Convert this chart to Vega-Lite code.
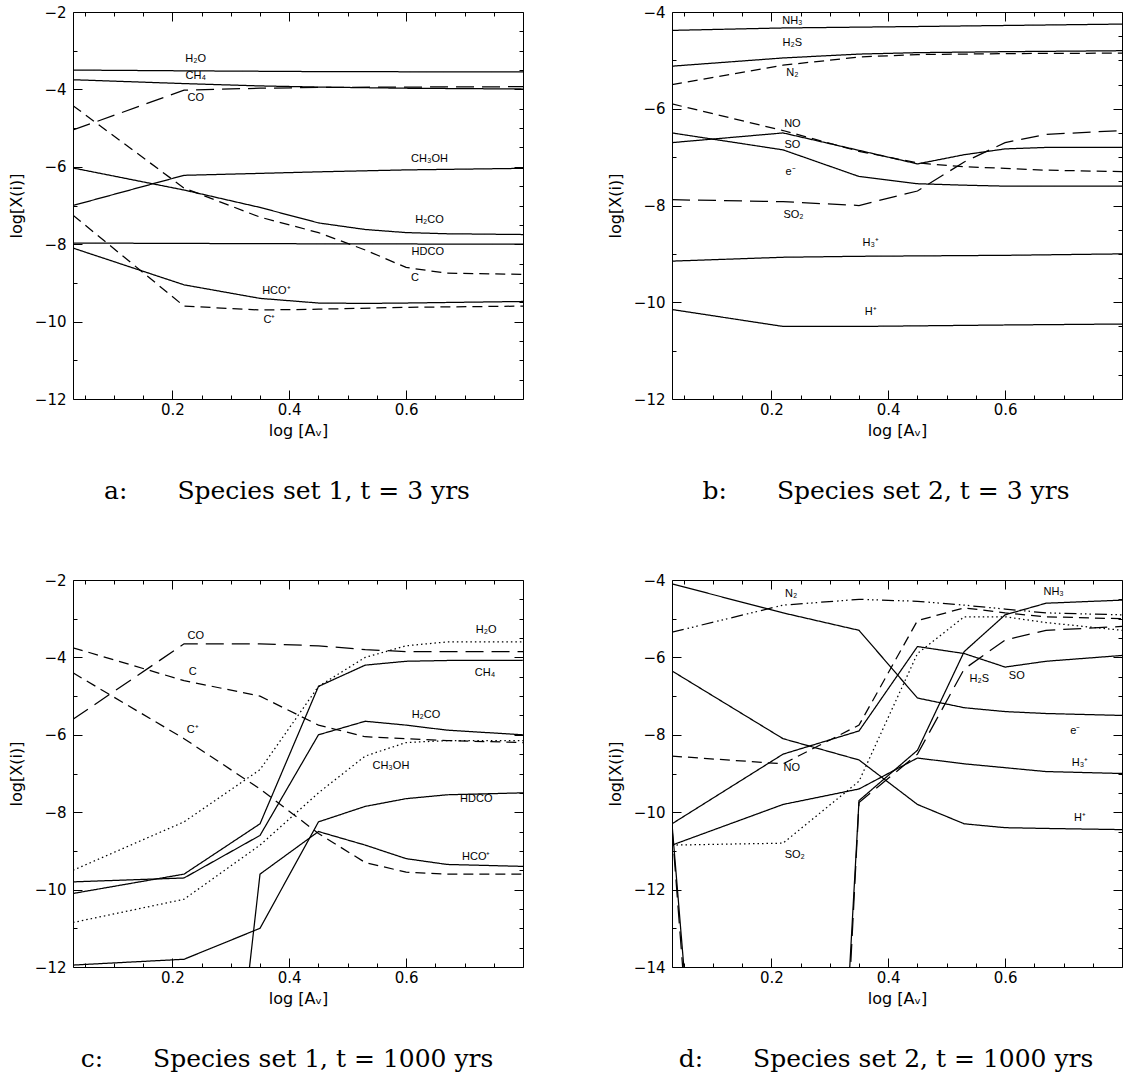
{
  "$schema": "https://vega.github.io/schema/vega-lite/v6.json",
  "padding": {"left": 8, "top": 5, "right": 0, "bottom": 0},
  "background": "white",
  "config": {
    "view": {"stroke": null},
    "axis": {"grid": false, "domainColor": "black", "tickColor": "black", "labelColor": "black", "titleColor": "black", "labelFont": "DejaVu Sans", "labelFontSize": 15, "titleFont": "DejaVu Sans", "titleFontSize": 16, "titleFontWeight": "normal", "tickWidth": 1, "domainWidth": 1, "labelOverlap": false},
    "title": {"font": "DejaVu Serif", "fontSize": 25, "fontWeight": "normal", "color": "black"}
  },
  "datasets": {
    "curves": [
      {"p":"a","s":"H2O","d":"solid","x":0.03,"y":-3.5},{"p":"a","s":"H2O","d":"solid","x":0.22,"y":-3.52},{"p":"a","s":"H2O","d":"solid","x":0.45,"y":-3.54},{"p":"a","s":"H2O","d":"solid","x":0.8,"y":-3.55},
      {"p":"a","s":"CH4","d":"solid","x":0.03,"y":-3.75},{"p":"a","s":"CH4","d":"solid","x":0.22,"y":-3.85},{"p":"a","s":"CH4","d":"solid","x":0.35,"y":-3.91},{"p":"a","s":"CH4","d":"solid","x":0.45,"y":-3.94},{"p":"a","s":"CH4","d":"solid","x":0.6,"y":-3.97},{"p":"a","s":"CH4","d":"solid","x":0.8,"y":-3.99},
      {"p":"a","s":"CO","d":"long","x":0.03,"y":-5.05},{"p":"a","s":"CO","d":"long","x":0.22,"y":-4.02},{"p":"a","s":"CO","d":"long","x":0.35,"y":-3.97},{"p":"a","s":"CO","d":"long","x":0.45,"y":-3.95},{"p":"a","s":"CO","d":"long","x":0.6,"y":-3.94},{"p":"a","s":"CO","d":"long","x":0.8,"y":-3.93},
      {"p":"a","s":"C","d":"short","x":0.03,"y":-4.42},{"p":"a","s":"C","d":"short","x":0.22,"y":-6.55},{"p":"a","s":"C","d":"short","x":0.35,"y":-7.3},{"p":"a","s":"C","d":"short","x":0.45,"y":-7.7},{"p":"a","s":"C","d":"short","x":0.53,"y":-8.15},{"p":"a","s":"C","d":"short","x":0.6,"y":-8.6},{"p":"a","s":"C","d":"short","x":0.67,"y":-8.75},{"p":"a","s":"C","d":"short","x":0.8,"y":-8.78},
      {"p":"a","s":"CH3OH","d":"solid","x":0.03,"y":-7.0},{"p":"a","s":"CH3OH","d":"solid","x":0.22,"y":-6.22},{"p":"a","s":"CH3OH","d":"solid","x":0.35,"y":-6.17},{"p":"a","s":"CH3OH","d":"solid","x":0.45,"y":-6.13},{"p":"a","s":"CH3OH","d":"solid","x":0.6,"y":-6.08},{"p":"a","s":"CH3OH","d":"solid","x":0.8,"y":-6.04},
      {"p":"a","s":"H2CO","d":"solid","x":0.03,"y":-6.03},{"p":"a","s":"H2CO","d":"solid","x":0.22,"y":-6.6},{"p":"a","s":"H2CO","d":"solid","x":0.35,"y":-7.05},{"p":"a","s":"H2CO","d":"solid","x":0.45,"y":-7.45},{"p":"a","s":"H2CO","d":"solid","x":0.53,"y":-7.62},{"p":"a","s":"H2CO","d":"solid","x":0.6,"y":-7.7},{"p":"a","s":"H2CO","d":"solid","x":0.67,"y":-7.73},{"p":"a","s":"H2CO","d":"solid","x":0.8,"y":-7.75},
      {"p":"a","s":"HDCO","d":"solid","x":0.03,"y":-7.97},{"p":"a","s":"HDCO","d":"solid","x":0.22,"y":-7.98},{"p":"a","s":"HDCO","d":"solid","x":0.45,"y":-7.99},{"p":"a","s":"HDCO","d":"solid","x":0.8,"y":-8.0},
      {"p":"a","s":"HCO+","d":"solid","x":0.03,"y":-8.1},{"p":"a","s":"HCO+","d":"solid","x":0.22,"y":-9.05},{"p":"a","s":"HCO+","d":"solid","x":0.35,"y":-9.4},{"p":"a","s":"HCO+","d":"solid","x":0.45,"y":-9.52},{"p":"a","s":"HCO+","d":"solid","x":0.53,"y":-9.53},{"p":"a","s":"HCO+","d":"solid","x":0.6,"y":-9.52},{"p":"a","s":"HCO+","d":"solid","x":0.8,"y":-9.48},
      {"p":"a","s":"C+","d":"short","x":0.03,"y":-7.25},{"p":"a","s":"C+","d":"short","x":0.22,"y":-9.6},{"p":"a","s":"C+","d":"short","x":0.35,"y":-9.7},{"p":"a","s":"C+","d":"short","x":0.45,"y":-9.68},{"p":"a","s":"C+","d":"short","x":0.6,"y":-9.63},{"p":"a","s":"C+","d":"short","x":0.8,"y":-9.6},

      {"p":"b","s":"NH3","d":"solid","x":0.03,"y":-4.38},{"p":"b","s":"NH3","d":"solid","x":0.22,"y":-4.33},{"p":"b","s":"NH3","d":"solid","x":0.45,"y":-4.3},{"p":"b","s":"NH3","d":"solid","x":0.8,"y":-4.25},
      {"p":"b","s":"H2S","d":"solid","x":0.03,"y":-5.12},{"p":"b","s":"H2S","d":"solid","x":0.22,"y":-4.95},{"p":"b","s":"H2S","d":"solid","x":0.35,"y":-4.87},{"p":"b","s":"H2S","d":"solid","x":0.45,"y":-4.84},{"p":"b","s":"H2S","d":"solid","x":0.6,"y":-4.82},{"p":"b","s":"H2S","d":"solid","x":0.8,"y":-4.8},
      {"p":"b","s":"N2","d":"short","x":0.03,"y":-5.5},{"p":"b","s":"N2","d":"short","x":0.22,"y":-5.1},{"p":"b","s":"N2","d":"short","x":0.35,"y":-4.93},{"p":"b","s":"N2","d":"short","x":0.45,"y":-4.88},{"p":"b","s":"N2","d":"short","x":0.6,"y":-4.86},{"p":"b","s":"N2","d":"short","x":0.8,"y":-4.85},
      {"p":"b","s":"NO","d":"short","x":0.03,"y":-5.9},{"p":"b","s":"NO","d":"short","x":0.22,"y":-6.45},{"p":"b","s":"NO","d":"short","x":0.35,"y":-6.88},{"p":"b","s":"NO","d":"short","x":0.45,"y":-7.12},{"p":"b","s":"NO","d":"short","x":0.53,"y":-7.2},{"p":"b","s":"NO","d":"short","x":0.6,"y":-7.23},{"p":"b","s":"NO","d":"short","x":0.67,"y":-7.27},{"p":"b","s":"NO","d":"short","x":0.8,"y":-7.3},
      {"p":"b","s":"SO","d":"solid","x":0.03,"y":-6.7},{"p":"b","s":"SO","d":"solid","x":0.22,"y":-6.5},{"p":"b","s":"SO","d":"solid","x":0.35,"y":-6.86},{"p":"b","s":"SO","d":"solid","x":0.45,"y":-7.14},{"p":"b","s":"SO","d":"solid","x":0.53,"y":-6.95},{"p":"b","s":"SO","d":"solid","x":0.6,"y":-6.83},{"p":"b","s":"SO","d":"solid","x":0.67,"y":-6.8},{"p":"b","s":"SO","d":"solid","x":0.8,"y":-6.8},
      {"p":"b","s":"e-","d":"solid","x":0.03,"y":-6.5},{"p":"b","s":"e-","d":"solid","x":0.22,"y":-6.85},{"p":"b","s":"e-","d":"solid","x":0.35,"y":-7.4},{"p":"b","s":"e-","d":"solid","x":0.45,"y":-7.55},{"p":"b","s":"e-","d":"solid","x":0.53,"y":-7.58},{"p":"b","s":"e-","d":"solid","x":0.6,"y":-7.6},{"p":"b","s":"e-","d":"solid","x":0.8,"y":-7.6},
      {"p":"b","s":"SO2","d":"long","x":0.03,"y":-7.88},{"p":"b","s":"SO2","d":"long","x":0.22,"y":-7.92},{"p":"b","s":"SO2","d":"long","x":0.35,"y":-8.0},{"p":"b","s":"SO2","d":"long","x":0.45,"y":-7.7},{"p":"b","s":"SO2","d":"long","x":0.53,"y":-7.1},{"p":"b","s":"SO2","d":"long","x":0.6,"y":-6.7},{"p":"b","s":"SO2","d":"long","x":0.67,"y":-6.53},{"p":"b","s":"SO2","d":"long","x":0.8,"y":-6.45},
      {"p":"b","s":"H3+","d":"solid","x":0.03,"y":-9.15},{"p":"b","s":"H3+","d":"solid","x":0.22,"y":-9.07},{"p":"b","s":"H3+","d":"solid","x":0.35,"y":-9.05},{"p":"b","s":"H3+","d":"solid","x":0.6,"y":-9.03},{"p":"b","s":"H3+","d":"solid","x":0.8,"y":-9.0},
      {"p":"b","s":"H+","d":"solid","x":0.03,"y":-10.15},{"p":"b","s":"H+","d":"solid","x":0.22,"y":-10.5},{"p":"b","s":"H+","d":"solid","x":0.35,"y":-10.5},{"p":"b","s":"H+","d":"solid","x":0.6,"y":-10.47},{"p":"b","s":"H+","d":"solid","x":0.8,"y":-10.45},

      {"p":"c","s":"CO","d":"long","x":0.03,"y":-5.6},{"p":"c","s":"CO","d":"long","x":0.22,"y":-3.65},{"p":"c","s":"CO","d":"long","x":0.35,"y":-3.65},{"p":"c","s":"CO","d":"long","x":0.45,"y":-3.7},{"p":"c","s":"CO","d":"long","x":0.53,"y":-3.8},{"p":"c","s":"CO","d":"long","x":0.6,"y":-3.85},{"p":"c","s":"CO","d":"long","x":0.8,"y":-3.85},
      {"p":"c","s":"C","d":"short","x":0.03,"y":-3.75},{"p":"c","s":"C","d":"short","x":0.22,"y":-4.6},{"p":"c","s":"C","d":"short","x":0.35,"y":-5.0},{"p":"c","s":"C","d":"short","x":0.45,"y":-5.75},{"p":"c","s":"C","d":"short","x":0.53,"y":-6.05},{"p":"c","s":"C","d":"short","x":0.6,"y":-6.1},{"p":"c","s":"C","d":"short","x":0.67,"y":-6.15},{"p":"c","s":"C","d":"short","x":0.8,"y":-6.2},
      {"p":"c","s":"C+","d":"short","x":0.03,"y":-4.4},{"p":"c","s":"C+","d":"short","x":0.22,"y":-6.1},{"p":"c","s":"C+","d":"short","x":0.35,"y":-7.4},{"p":"c","s":"C+","d":"short","x":0.45,"y":-8.55},{"p":"c","s":"C+","d":"short","x":0.53,"y":-9.3},{"p":"c","s":"C+","d":"short","x":0.6,"y":-9.55},{"p":"c","s":"C+","d":"short","x":0.67,"y":-9.6},{"p":"c","s":"C+","d":"short","x":0.8,"y":-9.6},
      {"p":"c","s":"H2O","d":"dot","x":0.03,"y":-9.5},{"p":"c","s":"H2O","d":"dot","x":0.22,"y":-8.25},{"p":"c","s":"H2O","d":"dot","x":0.35,"y":-6.9},{"p":"c","s":"H2O","d":"dot","x":0.45,"y":-4.75},{"p":"c","s":"H2O","d":"dot","x":0.53,"y":-4.0},{"p":"c","s":"H2O","d":"dot","x":0.6,"y":-3.7},{"p":"c","s":"H2O","d":"dot","x":0.67,"y":-3.6},{"p":"c","s":"H2O","d":"dot","x":0.8,"y":-3.6},
      {"p":"c","s":"CH4","d":"solid","x":0.03,"y":-10.1},{"p":"c","s":"CH4","d":"solid","x":0.22,"y":-9.6},{"p":"c","s":"CH4","d":"solid","x":0.35,"y":-8.3},{"p":"c","s":"CH4","d":"solid","x":0.45,"y":-4.75},{"p":"c","s":"CH4","d":"solid","x":0.53,"y":-4.2},{"p":"c","s":"CH4","d":"solid","x":0.6,"y":-4.1},{"p":"c","s":"CH4","d":"solid","x":0.67,"y":-4.08},{"p":"c","s":"CH4","d":"solid","x":0.8,"y":-4.08},
      {"p":"c","s":"H2CO","d":"solid","x":0.03,"y":-9.8},{"p":"c","s":"H2CO","d":"solid","x":0.22,"y":-9.7},{"p":"c","s":"H2CO","d":"solid","x":0.35,"y":-8.6},{"p":"c","s":"H2CO","d":"solid","x":0.45,"y":-6.0},{"p":"c","s":"H2CO","d":"solid","x":0.53,"y":-5.65},{"p":"c","s":"H2CO","d":"solid","x":0.6,"y":-5.75},{"p":"c","s":"H2CO","d":"solid","x":0.67,"y":-5.88},{"p":"c","s":"H2CO","d":"solid","x":0.8,"y":-6.0},
      {"p":"c","s":"CH3OH","d":"dot","x":0.03,"y":-10.85},{"p":"c","s":"CH3OH","d":"dot","x":0.22,"y":-10.25},{"p":"c","s":"CH3OH","d":"dot","x":0.35,"y":-8.85},{"p":"c","s":"CH3OH","d":"dot","x":0.45,"y":-7.5},{"p":"c","s":"CH3OH","d":"dot","x":0.53,"y":-6.55},{"p":"c","s":"CH3OH","d":"dot","x":0.6,"y":-6.2},{"p":"c","s":"CH3OH","d":"dot","x":0.67,"y":-6.15},{"p":"c","s":"CH3OH","d":"dot","x":0.8,"y":-6.15},
      {"p":"c","s":"HDCO","d":"solid","x":0.03,"y":-11.95},{"p":"c","s":"HDCO","d":"solid","x":0.22,"y":-11.8},{"p":"c","s":"HDCO","d":"solid","x":0.35,"y":-11.0},{"p":"c","s":"HDCO","d":"solid","x":0.45,"y":-8.25},{"p":"c","s":"HDCO","d":"solid","x":0.53,"y":-7.85},{"p":"c","s":"HDCO","d":"solid","x":0.6,"y":-7.65},{"p":"c","s":"HDCO","d":"solid","x":0.67,"y":-7.55},{"p":"c","s":"HDCO","d":"solid","x":0.8,"y":-7.5},
      {"p":"c","s":"HCO+","d":"solid","x":0.03,"y":-30},{"p":"c","s":"HCO+","d":"solid","x":0.22,"y":-27},{"p":"c","s":"HCO+","d":"solid","x":0.35,"y":-9.6},{"p":"c","s":"HCO+","d":"solid","x":0.45,"y":-8.5},{"p":"c","s":"HCO+","d":"solid","x":0.53,"y":-8.85},{"p":"c","s":"HCO+","d":"solid","x":0.6,"y":-9.2},{"p":"c","s":"HCO+","d":"solid","x":0.67,"y":-9.35},{"p":"c","s":"HCO+","d":"solid","x":0.8,"y":-9.4},

      {"p":"d","s":"e-","d":"solid","x":0.03,"y":-4.1},{"p":"d","s":"e-","d":"solid","x":0.22,"y":-4.85},{"p":"d","s":"e-","d":"solid","x":0.35,"y":-5.3},{"p":"d","s":"e-","d":"solid","x":0.45,"y":-7.05},{"p":"d","s":"e-","d":"solid","x":0.53,"y":-7.3},{"p":"d","s":"e-","d":"solid","x":0.6,"y":-7.4},{"p":"d","s":"e-","d":"solid","x":0.67,"y":-7.45},{"p":"d","s":"e-","d":"solid","x":0.8,"y":-7.5},
      {"p":"d","s":"N2","d":"dashdot","x":0.03,"y":-5.35},{"p":"d","s":"N2","d":"dashdot","x":0.22,"y":-4.65},{"p":"d","s":"N2","d":"dashdot","x":0.35,"y":-4.5},{"p":"d","s":"N2","d":"dashdot","x":0.45,"y":-4.55},{"p":"d","s":"N2","d":"dashdot","x":0.53,"y":-4.65},{"p":"d","s":"N2","d":"dashdot","x":0.6,"y":-4.75},{"p":"d","s":"N2","d":"dashdot","x":0.67,"y":-4.85},{"p":"d","s":"N2","d":"dashdot","x":0.8,"y":-4.9},
      {"p":"d","s":"H+","d":"solid","x":0.03,"y":-6.35},{"p":"d","s":"H+","d":"solid","x":0.22,"y":-8.1},{"p":"d","s":"H+","d":"solid","x":0.35,"y":-8.65},{"p":"d","s":"H+","d":"solid","x":0.45,"y":-9.8},{"p":"d","s":"H+","d":"solid","x":0.53,"y":-10.3},{"p":"d","s":"H+","d":"solid","x":0.6,"y":-10.4},{"p":"d","s":"H+","d":"solid","x":0.67,"y":-10.42},{"p":"d","s":"H+","d":"solid","x":0.8,"y":-10.45},
      {"p":"d","s":"NO","d":"short","x":0.03,"y":-8.55},{"p":"d","s":"NO","d":"short","x":0.22,"y":-8.75},{"p":"d","s":"NO","d":"short","x":0.35,"y":-7.75},{"p":"d","s":"NO","d":"short","x":0.45,"y":-5.05},{"p":"d","s":"NO","d":"short","x":0.53,"y":-4.72},{"p":"d","s":"NO","d":"short","x":0.6,"y":-4.85},{"p":"d","s":"NO","d":"short","x":0.67,"y":-4.95},{"p":"d","s":"NO","d":"short","x":0.8,"y":-5.0},
      {"p":"d","s":"SO","d":"solid","x":0.03,"y":-10.3},{"p":"d","s":"SO","d":"solid","x":0.22,"y":-8.5},{"p":"d","s":"SO","d":"solid","x":0.35,"y":-7.9},{"p":"d","s":"SO","d":"solid","x":0.45,"y":-5.72},{"p":"d","s":"SO","d":"solid","x":0.53,"y":-5.9},{"p":"d","s":"SO","d":"solid","x":0.6,"y":-6.25},{"p":"d","s":"SO","d":"solid","x":0.67,"y":-6.1},{"p":"d","s":"SO","d":"solid","x":0.8,"y":-5.95},
      {"p":"d","s":"H3+","d":"solid","x":0.03,"y":-10.85},{"p":"d","s":"H3+","d":"solid","x":0.22,"y":-9.8},{"p":"d","s":"H3+","d":"solid","x":0.35,"y":-9.4},{"p":"d","s":"H3+","d":"solid","x":0.45,"y":-8.6},{"p":"d","s":"H3+","d":"solid","x":0.53,"y":-8.75},{"p":"d","s":"H3+","d":"solid","x":0.6,"y":-8.85},{"p":"d","s":"H3+","d":"solid","x":0.67,"y":-8.95},{"p":"d","s":"H3+","d":"solid","x":0.8,"y":-9.0},
      {"p":"d","s":"SO2","d":"dot","x":0.03,"y":-10.85},{"p":"d","s":"SO2","d":"dot","x":0.22,"y":-10.8},{"p":"d","s":"SO2","d":"dot","x":0.35,"y":-9.2},{"p":"d","s":"SO2","d":"dot","x":0.45,"y":-5.9},{"p":"d","s":"SO2","d":"dot","x":0.53,"y":-4.95},{"p":"d","s":"SO2","d":"dot","x":0.6,"y":-4.95},{"p":"d","s":"SO2","d":"dot","x":0.67,"y":-5.1},{"p":"d","s":"SO2","d":"dot","x":0.8,"y":-5.3},
      {"p":"d","s":"NH3","d":"solid","x":0.03,"y":-10.3},{"p":"d","s":"NH3","d":"solid","x":0.22,"y":-45},{"p":"d","s":"NH3","d":"solid","x":0.35,"y":-9.7},{"p":"d","s":"NH3","d":"solid","x":0.45,"y":-8.4},{"p":"d","s":"NH3","d":"solid","x":0.53,"y":-5.85},{"p":"d","s":"NH3","d":"solid","x":0.6,"y":-4.9},{"p":"d","s":"NH3","d":"solid","x":0.67,"y":-4.6},{"p":"d","s":"NH3","d":"solid","x":0.8,"y":-4.52},
      {"p":"d","s":"H2S","d":"long","x":0.03,"y":-10.4},{"p":"d","s":"H2S","d":"long","x":0.22,"y":-48},{"p":"d","s":"H2S","d":"long","x":0.35,"y":-9.75},{"p":"d","s":"H2S","d":"long","x":0.45,"y":-8.5},{"p":"d","s":"H2S","d":"long","x":0.53,"y":-6.3},{"p":"d","s":"H2S","d":"long","x":0.6,"y":-5.55},{"p":"d","s":"H2S","d":"long","x":0.67,"y":-5.3},{"p":"d","s":"H2S","d":"long","x":0.8,"y":-5.2}
    ],
    "labels": [
      {"p":"a","t":"H₂O","x":0.24,"y":-3.22},{"p":"a","t":"CH₄","x":0.24,"y":-3.66},{"p":"a","t":"CO","x":0.24,"y":-4.22},{"p":"a","t":"CH₃OH","x":0.64,"y":-5.8},{"p":"a","t":"H₂CO","x":0.64,"y":-7.38},{"p":"a","t":"HDCO","x":0.637,"y":-8.2},{"p":"a","t":"C","x":0.615,"y":-8.87},{"p":"a","t":"HCO⁺","x":0.378,"y":-9.22},{"p":"a","t":"C⁺","x":0.366,"y":-9.95},
      {"p":"b","t":"NH₃","x":0.236,"y":-4.18},{"p":"b","t":"H₂S","x":0.236,"y":-4.64},{"p":"b","t":"N₂","x":0.236,"y":-5.27},{"p":"b","t":"NO","x":0.236,"y":-6.31},{"p":"b","t":"SO","x":0.236,"y":-6.75},{"p":"b","t":"e⁻","x":0.233,"y":-7.31},{"p":"b","t":"SO₂","x":0.238,"y":-8.2},{"p":"b","t":"H₃⁺","x":0.37,"y":-8.78},{"p":"b","t":"H⁺","x":0.37,"y":-10.2},
      {"p":"c","t":"CO","x":0.24,"y":-3.45},{"p":"c","t":"C","x":0.235,"y":-4.38},{"p":"c","t":"C⁺","x":0.235,"y":-5.88},{"p":"c","t":"H₂O","x":0.737,"y":-3.3},{"p":"c","t":"CH₄","x":0.735,"y":-4.4},{"p":"c","t":"H₂CO","x":0.634,"y":-5.5},{"p":"c","t":"CH₃OH","x":0.574,"y":-6.8},{"p":"c","t":"HDCO","x":0.72,"y":-7.67},{"p":"c","t":"HCO⁺","x":0.72,"y":-9.16},
      {"p":"d","t":"N₂","x":0.234,"y":-4.37},{"p":"d","t":"NO","x":0.235,"y":-8.85},{"p":"d","t":"SO₂","x":0.24,"y":-11.1},{"p":"d","t":"NH₃","x":0.683,"y":-4.3},{"p":"d","t":"H₂S","x":0.556,"y":-6.55},{"p":"d","t":"SO","x":0.62,"y":-6.47},{"p":"d","t":"e⁻","x":0.72,"y":-7.9},{"p":"d","t":"H₃⁺","x":0.728,"y":-8.72},{"p":"d","t":"H⁺","x":0.728,"y":-10.15}
    ]
  },
  "spacing": 69,
  "vconcat": [
    {
      "spacing": 83,
      "hconcat": [
        {
          "width": 450, "height": 387,
          "title": {"text": "a:\u2003\u2003Species set 1, t = 3 yrs", "orient": "bottom", "anchor": "middle", "frame": "group", "offset": 41, "dx": -11},
          "layer": [
            {
              "data": {"name": "curves"},
              "transform": [{"filter": "datum.p === 'a'"}],
              "mark": {"type": "line", "clip": true, "color": "black", "strokeWidth": 1.25},
              "encoding": {
                "x": {"field": "x", "type": "quantitative", "scale": {"domain": [0.03, 0.8], "nice": false, "zero": false},
                  "axis": {"orient": "bottom", "values": [0.05,0.1,0.15,0.2,0.25,0.3,0.35,0.4,0.45,0.5,0.55,0.6,0.65,0.7,0.75], "format": ".1f", "labelExpr": "abs(datum.value*5-round(datum.value*5))<0.001 ? datum.label : ''", "tickSize": {"condition": {"test": "abs(datum.value*5-round(datum.value*5))<0.001", "value": -9}, "value": -4}, "labelPadding": 12, "title": "log [Aᵥ]", "titlePadding": 0}},
                "y": {"field": "y", "type": "quantitative", "scale": {"domain": [-12, -2], "nice": false, "zero": false},
                  "axis": {"orient": "left", "values": [-12,-11.5,-11,-10.5,-10,-9.5,-9,-8.5,-8,-7.5,-7,-6.5,-6,-5.5,-5,-4.5,-4,-3.5,-3,-2.5,-2], "format": "d", "labelExpr": "datum.value % 2 === 0 ? datum.label : ''", "tickSize": {"condition": {"test": "datum.value % 2 === 0", "value": -9}, "value": -4}, "labelPadding": 16, "title": "log[X(i)]", "titlePadding": 10}},
                "detail": {"field": "s"},
                "strokeDash": {"field": "d", "type": "nominal", "legend": null, "scale": {"domain": ["solid","short","long","dot","dashdot"], "range": [[1,0],[10,6],[18,8],[1.5,3],[12,4,1.5,3,1.5,3,1.5,4]]}}
              }
            },
            {
              "data": {"name": "labels"},
              "transform": [{"filter": "datum.p === 'a'"}],
              "mark": {"type": "text", "font": "Liberation Sans", "fontSize": 11, "color": "black"},
              "encoding": {
                "x": {"field": "x", "type": "quantitative", "scale": {"domain": [0.03, 0.8], "nice": false, "zero": false},
                  "axis": {"orient": "top", "values": [0.05,0.1,0.15,0.2,0.25,0.3,0.35,0.4,0.45,0.5,0.55,0.6,0.65,0.7,0.75], "labels": false, "title": null, "tickSize": {"condition": {"test": "abs(datum.value*5-round(datum.value*5))<0.001", "value": -9}, "value": -4}}},
                "y": {"field": "y", "type": "quantitative", "scale": {"domain": [-12, -2], "nice": false, "zero": false},
                  "axis": {"orient": "right", "values": [-12,-11.5,-11,-10.5,-10,-9.5,-9,-8.5,-8,-7.5,-7,-6.5,-6,-5.5,-5,-4.5,-4,-3.5,-3,-2.5,-2], "labels": false, "title": null, "tickSize": {"condition": {"test": "datum.value % 2 === 0", "value": -9}, "value": -4}}},
                "text": {"field": "t"}
              }
            }
          ],
          "resolve": {"axis": {"x": "independent", "y": "independent"}}
        },
        {
          "width": 450, "height": 387,
          "title": {"text": "b:\u2003\u2003Species set 2, t = 3 yrs", "orient": "bottom", "anchor": "middle", "frame": "group", "offset": 41, "dx": -11},
          "layer": [
            {
              "data": {"name": "curves"},
              "transform": [{"filter": "datum.p === 'b'"}],
              "mark": {"type": "line", "clip": true, "color": "black", "strokeWidth": 1.25},
              "encoding": {
                "x": {"field": "x", "type": "quantitative", "scale": {"domain": [0.03, 0.8], "nice": false, "zero": false},
                  "axis": {"orient": "bottom", "values": [0.05,0.1,0.15,0.2,0.25,0.3,0.35,0.4,0.45,0.5,0.55,0.6,0.65,0.7,0.75], "format": ".1f", "labelExpr": "abs(datum.value*5-round(datum.value*5))<0.001 ? datum.label : ''", "tickSize": {"condition": {"test": "abs(datum.value*5-round(datum.value*5))<0.001", "value": -9}, "value": -4}, "labelPadding": 12, "title": "log [Aᵥ]", "titlePadding": 0}},
                "y": {"field": "y", "type": "quantitative", "scale": {"domain": [-12, -4], "nice": false, "zero": false},
                  "axis": {"orient": "left", "values": [-12,-11.5,-11,-10.5,-10,-9.5,-9,-8.5,-8,-7.5,-7,-6.5,-6,-5.5,-5,-4.5,-4], "format": "d", "labelExpr": "datum.value % 2 === 0 ? datum.label : ''", "tickSize": {"condition": {"test": "datum.value % 2 === 0", "value": -9}, "value": -4}, "labelPadding": 16, "title": "log[X(i)]", "titlePadding": 10}},
                "detail": {"field": "s"},
                "strokeDash": {"field": "d", "type": "nominal", "legend": null, "scale": {"domain": ["solid","short","long","dot","dashdot"], "range": [[1,0],[10,6],[18,8],[1.5,3],[12,4,1.5,3,1.5,3,1.5,4]]}}
              }
            },
            {
              "data": {"name": "labels"},
              "transform": [{"filter": "datum.p === 'b'"}],
              "mark": {"type": "text", "font": "Liberation Sans", "fontSize": 11, "color": "black"},
              "encoding": {
                "x": {"field": "x", "type": "quantitative", "scale": {"domain": [0.03, 0.8], "nice": false, "zero": false},
                  "axis": {"orient": "top", "values": [0.05,0.1,0.15,0.2,0.25,0.3,0.35,0.4,0.45,0.5,0.55,0.6,0.65,0.7,0.75], "labels": false, "title": null, "tickSize": {"condition": {"test": "abs(datum.value*5-round(datum.value*5))<0.001", "value": -9}, "value": -4}}},
                "y": {"field": "y", "type": "quantitative", "scale": {"domain": [-12, -4], "nice": false, "zero": false},
                  "axis": {"orient": "right", "values": [-12,-11.5,-11,-10.5,-10,-9.5,-9,-8.5,-8,-7.5,-7,-6.5,-6,-5.5,-5,-4.5,-4], "labels": false, "title": null, "tickSize": {"condition": {"test": "datum.value % 2 === 0", "value": -9}, "value": -4}}},
                "text": {"field": "t"}
              }
            }
          ],
          "resolve": {"axis": {"x": "independent", "y": "independent"}}
        }
      ]
    },
    {
      "spacing": 83,
      "hconcat": [
        {
          "width": 450, "height": 387,
          "title": {"text": "c:\u2003\u2003Species set 1, t = 1000 yrs", "orient": "bottom", "anchor": "middle", "frame": "group", "offset": 41, "dx": -11},
          "layer": [
            {
              "data": {"name": "curves"},
              "transform": [{"filter": "datum.p === 'c'"}],
              "mark": {"type": "line", "clip": true, "color": "black", "strokeWidth": 1.25},
              "encoding": {
                "x": {"field": "x", "type": "quantitative", "scale": {"domain": [0.03, 0.8], "nice": false, "zero": false},
                  "axis": {"orient": "bottom", "values": [0.05,0.1,0.15,0.2,0.25,0.3,0.35,0.4,0.45,0.5,0.55,0.6,0.65,0.7,0.75], "format": ".1f", "labelExpr": "abs(datum.value*5-round(datum.value*5))<0.001 ? datum.label : ''", "tickSize": {"condition": {"test": "abs(datum.value*5-round(datum.value*5))<0.001", "value": -9}, "value": -4}, "labelPadding": 12, "title": "log [Aᵥ]", "titlePadding": 0}},
                "y": {"field": "y", "type": "quantitative", "scale": {"domain": [-12, -2], "nice": false, "zero": false},
                  "axis": {"orient": "left", "values": [-12,-11.5,-11,-10.5,-10,-9.5,-9,-8.5,-8,-7.5,-7,-6.5,-6,-5.5,-5,-4.5,-4,-3.5,-3,-2.5,-2], "format": "d", "labelExpr": "datum.value % 2 === 0 ? datum.label : ''", "tickSize": {"condition": {"test": "datum.value % 2 === 0", "value": -9}, "value": -4}, "labelPadding": 16, "title": "log[X(i)]", "titlePadding": 10}},
                "detail": {"field": "s"},
                "strokeDash": {"field": "d", "type": "nominal", "legend": null, "scale": {"domain": ["solid","short","long","dot","dashdot"], "range": [[1,0],[10,6],[18,8],[1.5,3],[12,4,1.5,3,1.5,3,1.5,4]]}}
              }
            },
            {
              "data": {"name": "labels"},
              "transform": [{"filter": "datum.p === 'c'"}],
              "mark": {"type": "text", "font": "Liberation Sans", "fontSize": 11, "color": "black"},
              "encoding": {
                "x": {"field": "x", "type": "quantitative", "scale": {"domain": [0.03, 0.8], "nice": false, "zero": false},
                  "axis": {"orient": "top", "values": [0.05,0.1,0.15,0.2,0.25,0.3,0.35,0.4,0.45,0.5,0.55,0.6,0.65,0.7,0.75], "labels": false, "title": null, "tickSize": {"condition": {"test": "abs(datum.value*5-round(datum.value*5))<0.001", "value": -9}, "value": -4}}},
                "y": {"field": "y", "type": "quantitative", "scale": {"domain": [-12, -2], "nice": false, "zero": false},
                  "axis": {"orient": "right", "values": [-12,-11.5,-11,-10.5,-10,-9.5,-9,-8.5,-8,-7.5,-7,-6.5,-6,-5.5,-5,-4.5,-4,-3.5,-3,-2.5,-2], "labels": false, "title": null, "tickSize": {"condition": {"test": "datum.value % 2 === 0", "value": -9}, "value": -4}}},
                "text": {"field": "t"}
              }
            }
          ],
          "resolve": {"axis": {"x": "independent", "y": "independent"}}
        },
        {
          "width": 450, "height": 387,
          "title": {"text": "d:\u2003\u2003Species set 2, t = 1000 yrs", "orient": "bottom", "anchor": "middle", "frame": "group", "offset": 41, "dx": -11},
          "layer": [
            {
              "data": {"name": "curves"},
              "transform": [{"filter": "datum.p === 'd'"}],
              "mark": {"type": "line", "clip": true, "color": "black", "strokeWidth": 1.25},
              "encoding": {
                "x": {"field": "x", "type": "quantitative", "scale": {"domain": [0.03, 0.8], "nice": false, "zero": false},
                  "axis": {"orient": "bottom", "values": [0.05,0.1,0.15,0.2,0.25,0.3,0.35,0.4,0.45,0.5,0.55,0.6,0.65,0.7,0.75], "format": ".1f", "labelExpr": "abs(datum.value*5-round(datum.value*5))<0.001 ? datum.label : ''", "tickSize": {"condition": {"test": "abs(datum.value*5-round(datum.value*5))<0.001", "value": -9}, "value": -4}, "labelPadding": 12, "title": "log [Aᵥ]", "titlePadding": 0}},
                "y": {"field": "y", "type": "quantitative", "scale": {"domain": [-14, -4], "nice": false, "zero": false},
                  "axis": {"orient": "left", "values": [-14,-13.5,-13,-12.5,-12,-11.5,-11,-10.5,-10,-9.5,-9,-8.5,-8,-7.5,-7,-6.5,-6,-5.5,-5,-4.5,-4], "format": "d", "labelExpr": "datum.value % 2 === 0 ? datum.label : ''", "tickSize": {"condition": {"test": "datum.value % 2 === 0", "value": -9}, "value": -4}, "labelPadding": 16, "title": "log[X(i)]", "titlePadding": 10}},
                "detail": {"field": "s"},
                "strokeDash": {"field": "d", "type": "nominal", "legend": null, "scale": {"domain": ["solid","short","long","dot","dashdot"], "range": [[1,0],[10,6],[18,8],[1.5,3],[12,4,1.5,3,1.5,3,1.5,4]]}}
              }
            },
            {
              "data": {"name": "labels"},
              "transform": [{"filter": "datum.p === 'd'"}],
              "mark": {"type": "text", "font": "Liberation Sans", "fontSize": 11, "color": "black"},
              "encoding": {
                "x": {"field": "x", "type": "quantitative", "scale": {"domain": [0.03, 0.8], "nice": false, "zero": false},
                  "axis": {"orient": "top", "values": [0.05,0.1,0.15,0.2,0.25,0.3,0.35,0.4,0.45,0.5,0.55,0.6,0.65,0.7,0.75], "labels": false, "title": null, "tickSize": {"condition": {"test": "abs(datum.value*5-round(datum.value*5))<0.001", "value": -9}, "value": -4}}},
                "y": {"field": "y", "type": "quantitative", "scale": {"domain": [-14, -4], "nice": false, "zero": false},
                  "axis": {"orient": "right", "values": [-14,-13.5,-13,-12.5,-12,-11.5,-11,-10.5,-10,-9.5,-9,-8.5,-8,-7.5,-7,-6.5,-6,-5.5,-5,-4.5,-4], "labels": false, "title": null, "tickSize": {"condition": {"test": "datum.value % 2 === 0", "value": -9}, "value": -4}}},
                "text": {"field": "t"}
              }
            }
          ],
          "resolve": {"axis": {"x": "independent", "y": "independent"}}
        }
      ]
    }
  ]
}
